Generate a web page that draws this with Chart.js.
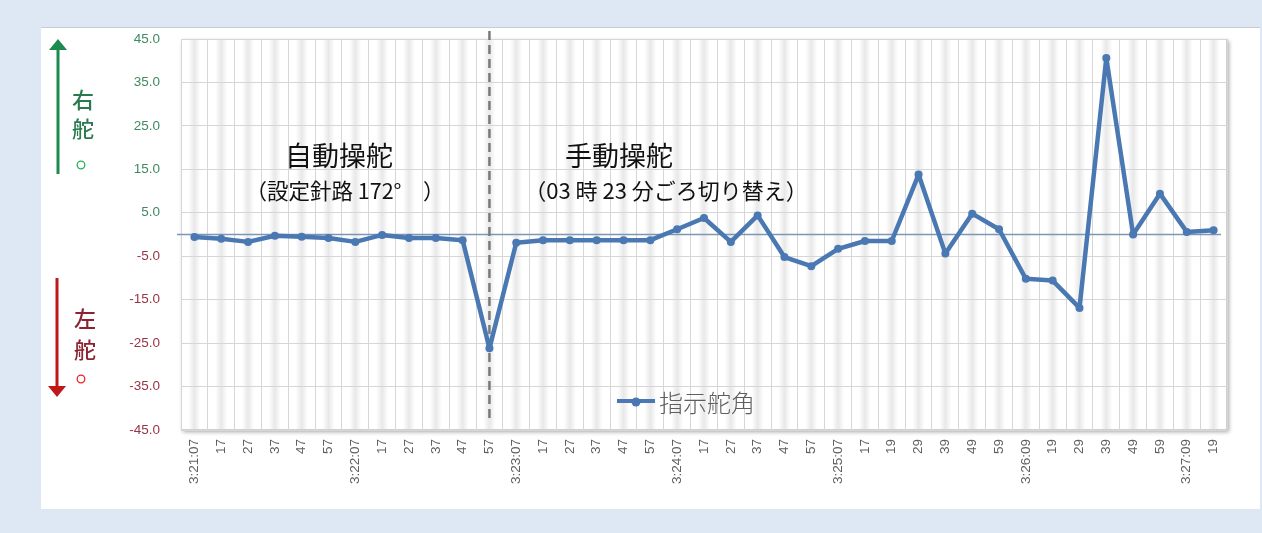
<!DOCTYPE html>
<html><head><meta charset="utf-8">
<script src="https://cdn.jsdelivr.net/npm/chart.js@4.4.1/dist/chart.umd.min.js"></script>
<style>
html,body{margin:0;padding:0;background:#dde8f4;}
#panel{position:absolute;left:41px;top:27px;width:1219px;height:481px;background:#fff;border-top:1px solid #c8ccd2;}
#wrap{position:absolute;left:0;top:0;width:1262px;height:533px;}
</style></head>
<body>
<div id="panel"></div>
<div id="wrap"><canvas id="c" width="1262" height="533"></canvas></div>
<script>
const categories = ["3:21:07","17","27","37","47","57","3:22:07","17","27","37","47","57",
  "3:23:07","17","27","37","47","57","3:24:07","17","27","37","47","57",
  "3:25:07","17","19","29","39","49","59","3:26:09","19","29","39","49","59","3:27:09","19"];
const rudderAngle = [-0.6,-1.0,-1.7,-0.3,-0.5,-0.8,-1.7,-0.1,-0.8,-0.8,-1.3,-26.2,
  -1.9,-1.3,-1.3,-1.3,-1.3,-1.3,1.2,3.8,-1.7,4.4,-5.2,-7.3,
  -3.3,-1.5,-1.5,13.8,-4.4,4.8,1.2,-10.2,-10.6,-16.9,40.6,0.0,9.4,0.6,1.0];
const seriesName = "指示舵角";
const yMin = -45, yMax = 45, yStep = 10;
const switchIndex = 11;
const notes = [
  {text:"自動操舵", x:339, y:156, size:27},
  {text:"（設定針路 172°　）", x:345, y:191, size:21.5},
  {text:"手動操舵", x:619, y:156, size:27},
  {text:"（03 時 23 分ごろ切り替え）", x:666, y:191, size:22}
];
const lineColor = "#4a78b2";
const cjk = '"Noto Sans CJK JP", "Noto Sans", sans-serif';

const decor = {
  id:'decor',
  beforeDraw(chart){
    const {ctx, chartArea:a, scales:{x}} = chart;
    ctx.save();
    ctx.shadowColor='rgba(0,0,0,0.35)';ctx.shadowBlur=4;ctx.shadowOffsetX=2;ctx.shadowOffsetY=2;
    ctx.fillStyle='#fff';ctx.fillRect(a.left,a.top,a.right-a.left,a.bottom-a.top);
    ctx.restore();
    ctx.save();
    for(let i=0;i<categories.length;i++){
      const cx=x.getPixelForValue(i);
      const g=ctx.createLinearGradient(cx-6,0,cx+6,0);
      g.addColorStop(0,'rgba(0,0,0,0)');g.addColorStop(0.5,'rgba(0,0,0,0.09)');g.addColorStop(1,'rgba(0,0,0,0)');
      ctx.fillStyle=g;ctx.fillRect(cx-6,a.top,12,a.bottom-a.top);
    }
    ctx.strokeStyle='#cfcfcf';ctx.lineWidth=1;
    ctx.strokeRect(a.left+0.5,a.top+0.5,a.right-a.left-1,a.bottom-a.top-1);
    ctx.restore();
  },
  beforeDatasetsDraw(chart){
    const {ctx, chartArea:a, scales:{x,y}} = chart;
    ctx.save();
    const y0=y.getPixelForValue(0);
    ctx.strokeStyle='#7d97b3';ctx.lineWidth=1.5;
    ctx.beginPath();ctx.moveTo(a.left-4,y0);ctx.lineTo(a.right-6,y0);ctx.stroke();
    const sx=x.getPixelForValue(switchIndex);
    ctx.strokeStyle='#7a7a7a';ctx.lineWidth=2.5;ctx.setLineDash([9,5]);
    ctx.beginPath();ctx.moveTo(sx,31);ctx.lineTo(sx,a.bottom-8);ctx.stroke();
    ctx.setLineDash([]);
    ctx.fillStyle='#111';ctx.textAlign='center';ctx.textBaseline='middle';
    notes.forEach(n=>{ctx.font='400 '+n.size+'px '+cjk;ctx.fillText(n.text,n.x,n.y);});
    ctx.restore();
  },
  afterDraw(chart){
    const {ctx} = chart;
    ctx.save();
    // legend
    ctx.strokeStyle=lineColor;ctx.lineWidth=4;
    ctx.beginPath();ctx.moveTo(617,401);ctx.lineTo(655,401);ctx.stroke();
    ctx.fillStyle=lineColor;ctx.beginPath();ctx.arc(636,402,4.5,0,Math.PI*2);ctx.fill();
    ctx.fillStyle='#5e5e5e';ctx.font='300 24px '+cjk;ctx.textAlign='left';ctx.textBaseline='middle';
    ctx.fillText(seriesName,659,403);
    // green arrow
    ctx.strokeStyle='#1a8a4e';ctx.fillStyle='#1a8a4e';ctx.lineWidth=3;
    ctx.beginPath();ctx.moveTo(58,174);ctx.lineTo(58,48);ctx.stroke();
    ctx.beginPath();ctx.moveTo(58,39);ctx.lineTo(67,50);ctx.lineTo(49,50);ctx.closePath();ctx.fill();
    ctx.fillStyle='#2a7a50';ctx.font='500 22px '+cjk;ctx.textAlign='center';
    ctx.fillText('右',83,100);ctx.fillText('舵',83,129);
    ctx.strokeStyle='#22b05a';ctx.lineWidth=1.3;ctx.beginPath();ctx.arc(81,165,3.8,0,Math.PI*2);ctx.stroke();
    // red arrow
    ctx.strokeStyle='#c01818';ctx.fillStyle='#c01818';ctx.lineWidth=3;
    ctx.beginPath();ctx.moveTo(57,278);ctx.lineTo(57,388);ctx.stroke();
    ctx.beginPath();ctx.moveTo(57,397);ctx.lineTo(66,386);ctx.lineTo(48,386);ctx.closePath();ctx.fill();
    ctx.fillStyle='#8a2232';ctx.font='500 22px '+cjk;
    ctx.fillText('左',85,319);ctx.fillText('舵',85,350);
    ctx.strokeStyle='#ee2020';ctx.lineWidth=1.3;ctx.beginPath();ctx.arc(81,379,3.8,0,Math.PI*2);ctx.stroke();
    ctx.restore();
  }
};

new Chart(document.getElementById('c'),{
  type:'line',
  data:{labels:categories,datasets:[{label:seriesName,data:rudderAngle,borderColor:lineColor,backgroundColor:lineColor,
    borderWidth:4.5,borderJoinStyle:'round',borderCapStyle:'round',pointRadius:4,pointHoverRadius:4,pointBorderWidth:0,tension:0,clip:false}]},
  options:{
    responsive:false,animation:false,
    layout:{padding:{left:0,top:39,right:35,bottom:0}},
    plugins:{legend:{display:false},tooltip:{enabled:false}},
    scales:{
      x:{offset:true,
        grid:{offset:true,color:'#d6d6d6',lineWidth:1,drawTicks:false},
        border:{display:false},
        ticks:{autoSkip:false,minRotation:90,maxRotation:90,padding:9,color:'#5f5f5f',font:{family:'"Liberation Sans", Arial, sans-serif',size:13.5}},
        afterFit(s){s.height=103;}
      },
      y:{min:yMin,max:yMax,
        grid:{color:'#d6d6d6',lineWidth:1,drawTicks:false},
        border:{display:false},
        ticks:{stepSize:yStep,padding:21,
          color:(c)=>c.tick.value>0?'#3f8a60':'#9a3345',
          font:{family:'"Liberation Sans", Arial, sans-serif',size:13.5},
          callback:(v)=>Number(v).toFixed(1)},
        afterFit(s){s.width=181;}
      }
    }
  },
  plugins:[decor]
});
</script>
</body></html>
